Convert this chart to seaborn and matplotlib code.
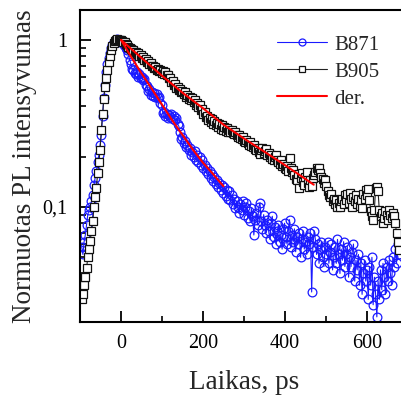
import numpy as np
import pandas as pd
import matplotlib
matplotlib.use("Agg")
import matplotlib.pyplot as plt
import matplotlib.ticker as mticker
import seaborn as sns

sns.set_style("ticks")
plt.rcParams['font.family'] = ['Liberation Serif', 'DejaVu Serif']

# time grid (ps), 3 ps sampling
time_ps = np.arange(-96, 681, 3)

b871 = [
    0.058, 0.052, 0.062, 0.068, 0.078, 0.090, 0.096, 0.100, 0.108, 0.118,
    0.135, 0.150, 0.165, 0.185, 0.205, 0.235, 0.270, 0.350, 0.450, 0.540,
    0.640, 0.720, 0.780, 0.840, 0.890, 0.930, 0.965, 0.990, 1.000, 1.010,
    1.005, 1.000, 0.985, 0.965, 0.945, 0.920, 0.900, 0.870, 0.820, 0.760,
    0.720, 0.670, 0.665, 0.630, 0.625, 0.640, 0.600, 0.625, 0.595, 0.600,
    0.575, 0.580, 0.540, 0.530, 0.495, 0.505, 0.470, 0.490, 0.462, 0.478,
    0.455, 0.475, 0.450, 0.455, 0.420, 0.405, 0.365, 0.372, 0.350, 0.358,
    0.340, 0.356, 0.348, 0.360, 0.338, 0.352, 0.330, 0.340, 0.312, 0.305,
    0.280, 0.255, 0.262, 0.240, 0.248, 0.228, 0.236, 0.218, 0.225, 0.205,
    0.212, 0.198, 0.215, 0.190, 0.205, 0.185, 0.198, 0.178, 0.190, 0.170,
    0.178, 0.165, 0.172, 0.158, 0.165, 0.150, 0.158, 0.144, 0.152, 0.138,
    0.145, 0.132, 0.140, 0.126, 0.136, 0.122, 0.132, 0.116, 0.126, 0.112,
    0.125, 0.110, 0.118, 0.104, 0.112, 0.098, 0.108, 0.100, 0.092, 0.104,
    0.096, 0.108, 0.090, 0.100, 0.106, 0.086, 0.094, 0.082, 0.098, 0.088,
    0.068, 0.084, 0.092, 0.078, 0.100, 0.106, 0.082, 0.074, 0.090, 0.078,
    0.070, 0.084, 0.072, 0.064, 0.080, 0.088, 0.066, 0.076, 0.060, 0.072,
    0.078, 0.062, 0.068, 0.056, 0.074, 0.080, 0.066, 0.060, 0.072, 0.084,
    0.058, 0.068, 0.062, 0.074, 0.054, 0.066, 0.060, 0.070, 0.050, 0.064,
    0.072, 0.056, 0.062, 0.052, 0.066, 0.060, 0.070, 0.031, 0.058, 0.072,
    0.064, 0.052, 0.060, 0.046, 0.056, 0.062, 0.050, 0.044, 0.058, 0.052,
    0.062, 0.046, 0.054, 0.060, 0.042, 0.050, 0.058, 0.046, 0.064, 0.052,
    0.040, 0.056, 0.048, 0.062, 0.044, 0.052, 0.058, 0.038, 0.050, 0.044,
    0.054, 0.060, 0.036, 0.048, 0.042, 0.052, 0.034, 0.046, 0.030, 0.040,
    0.048, 0.036, 0.042, 0.028, 0.044, 0.034, 0.050, 0.026, 0.038, 0.030,
    0.022, 0.036, 0.028, 0.042, 0.032, 0.046, 0.038, 0.030, 0.044, 0.036,
    0.048, 0.040, 0.034, 0.050, 0.044, 0.056, 0.046, 0.060, 0.052,
]

b905 = [
    0.028, 0.030, 0.034, 0.038, 0.043, 0.050, 0.056, 0.063, 0.072, 0.082,
    0.100, 0.115, 0.130, 0.160, 0.185, 0.220, 0.290, 0.360, 0.440, 0.520,
    0.590, 0.660, 0.740, 0.800, 0.870, 0.920, 0.960, 0.985, 1.000, 1.010,
    1.005, 1.000, 0.995, 0.985, 0.975, 0.965, 0.950, 0.930, 0.910, 0.895,
    0.885, 0.870, 0.872, 0.850, 0.852, 0.828, 0.835, 0.805, 0.810, 0.782,
    0.790, 0.762, 0.770, 0.742, 0.748, 0.722, 0.728, 0.700, 0.702, 0.682,
    0.690, 0.662, 0.672, 0.648, 0.660, 0.638, 0.650, 0.628, 0.640, 0.615,
    0.620, 0.592, 0.590, 0.562, 0.568, 0.540, 0.548, 0.518, 0.525, 0.500,
    0.505, 0.485, 0.495, 0.475, 0.485, 0.458, 0.470, 0.445, 0.458, 0.435,
    0.448, 0.425, 0.435, 0.410, 0.420, 0.395, 0.405, 0.380, 0.385, 0.362,
    0.368, 0.345, 0.352, 0.332, 0.342, 0.322, 0.335, 0.315, 0.328, 0.308,
    0.318, 0.300, 0.312, 0.294, 0.308, 0.290, 0.302, 0.286, 0.298, 0.282,
    0.288, 0.282, 0.290, 0.278, 0.272, 0.280, 0.268, 0.262, 0.270, 0.258,
    0.255, 0.262, 0.250, 0.245, 0.252, 0.240, 0.236, 0.244, 0.232, 0.228,
    0.235, 0.222, 0.218, 0.226, 0.212, 0.208, 0.218, 0.224, 0.210, 0.215,
    0.222, 0.205, 0.210, 0.198, 0.206, 0.195, 0.190, 0.200, 0.205, 0.192,
    0.186, 0.180, 0.190, 0.176, 0.182, 0.172, 0.168, 0.176, 0.165, 0.196,
    0.170, 0.162, 0.167, 0.155, 0.148, 0.145, 0.158, 0.130, 0.150, 0.160,
    0.142, 0.136, 0.152, 0.163, 0.140, 0.132, 0.146, 0.133, 0.150, 0.156,
    0.162, 0.170, 0.166, 0.172, 0.160, 0.152, 0.148, 0.140, 0.145, 0.134,
    0.125, 0.118, 0.115, 0.120, 0.108, 0.112, 0.104, 0.110, 0.100, 0.106,
    0.100, 0.108, 0.112, 0.104, 0.118, 0.110, 0.120, 0.105, 0.122, 0.112,
    0.100, 0.115, 0.108, 0.118, 0.104, 0.112, 0.102, 0.110, 0.098, 0.120,
    0.112, 0.126, 0.118, 0.128, 0.110, 0.095, 0.088, 0.084, 0.096, 0.130,
    0.132, 0.124, 0.096, 0.088, 0.092, 0.080, 0.086, 0.094, 0.090, 0.084,
    0.096, 0.090, 0.086, 0.092, 0.088, 0.080, 0.070, 0.062, 0.055,
]

fit1_t = [0, 25, 50, 75, 100, 125, 150, 175, 200, 225, 250]
fit1_v = [1.0, 0.79, 0.63, 0.51, 0.41, 0.33, 0.27, 0.221, 0.184, 0.157, 0.133]
fit2_t = [0, 50, 100, 150, 200, 250, 300, 350, 400, 450, 470]
fit2_v = [1.0, 0.78, 0.61, 0.483, 0.39, 0.311, 0.257, 0.214, 0.178, 0.147, 0.136]

fig = plt.figure(figsize=(4.02, 3.98), dpi=100)
ax = fig.add_axes([80/402, 76/398, 328/402, 312/398])

blue = '#1a1aff'
sns.lineplot(x=time_ps, y=b871, ax=ax, sort=False, estimator=None,
             color=blue, lw=0.8, marker='o', markersize=6.3,
             markerfacecolor='none', markeredgecolor=blue,
             markeredgewidth=0.9, label='B871')
sns.lineplot(x=time_ps, y=b905, ax=ax, sort=False, estimator=None,
             color='#222222', lw=0.8, marker='s', markersize=5.2,
             markerfacecolor='white', markeredgecolor='#111111',
             markeredgewidth=0.9, label='B905')
sns.lineplot(x=fit1_t, y=fit1_v, ax=ax, sort=False, estimator=None,
             color='#ff0000', lw=1.5, label='der.')
sns.lineplot(x=fit2_t, y=fit2_v, ax=ax, sort=False, estimator=None,
             color='#ff0000', lw=1.5)

ax.set_yscale('log')
ax.set_xlim(-100, 700)
ax.set_ylim(0.0205, 1.51)

ax.xaxis.set_major_locator(mticker.FixedLocator([0, 200, 400, 600]))
ax.xaxis.set_minor_locator(mticker.FixedLocator([100, 300, 500]))
ax.yaxis.set_major_locator(mticker.FixedLocator([0.1, 1]))
ax.yaxis.set_major_formatter(mticker.FixedFormatter(['0,1', '1']))
ax.yaxis.set_minor_locator(mticker.LogLocator(base=10, subs=np.arange(2, 10)))
ax.yaxis.set_minor_formatter(mticker.NullFormatter())

ax.tick_params(which='major', direction='in', length=8, width=1.3,
               labelsize=14.5, pad=9, color='black', labelcolor='black')
ax.tick_params(which='minor', direction='in', length=4.5, width=1.2,
               color='black')
for s in ax.spines.values():
    s.set_linewidth(1.5)
    s.set_color('black')

ax.set_xlabel('Laikas, ps', fontsize=19.5, labelpad=12)
ax.set_ylabel('Normuotas PL intensyvumas', fontsize=19.5, labelpad=4)

leg = ax.legend(loc='upper left', bbox_to_anchor=(0.60, 0.92),
                frameon=False, fontsize=15, handlelength=2.4,
                handletextpad=0.35, labelspacing=0.36, borderaxespad=0,
                borderpad=0, markerscale=0.8)

fig.savefig('out.png', dpi=100)
